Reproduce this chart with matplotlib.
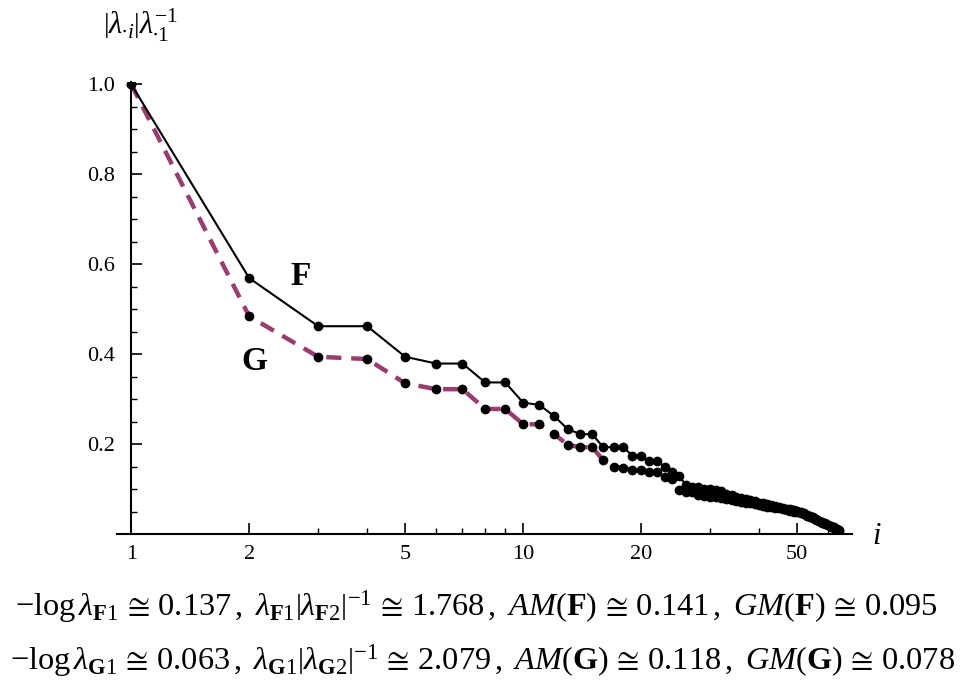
"""
Eigenvalue ratios |lambda_i| / lambda_1 for F and G on a log index axis.
"""
import numpy as np
import matplotlib.pyplot as plt

plt.rcParams['mathtext.fontset'] = 'custom'
plt.rcParams['mathtext.rm'] = 'Liberation Serif'
plt.rcParams['mathtext.it'] = 'Liberation Serif:italic'
plt.rcParams['mathtext.bf'] = 'Liberation Serif:bold'
plt.rcParams['font.family'] = ['Liberation Serif', 'DejaVu Serif']

#<---------------------------Datos---------------------------->
F_vals = [1.0, 0.569, 0.462, 0.462, 0.394, 0.379, 0.379, 0.337, 0.337, 0.292,
          0.287, 0.262, 0.233, 0.222, 0.222, 0.193, 0.193, 0.193, 0.174, 0.173,
          0.162, 0.162, 0.149, 0.138, 0.129, 0.109, 0.105, 0.105, 0.101, 0.100,
          0.097, 0.095, 0.090, 0.086, 0.082, 0.080, 0.078, 0.075, 0.073, 0.070,
          0.068, 0.066, 0.064, 0.062, 0.060, 0.058, 0.056, 0.055, 0.053, 0.051,
          0.049, 0.046, 0.043, 0.040, 0.037, 0.033, 0.030, 0.027, 0.024, 0.021,
          0.018, 0.015, 0.012, 0.009]
G_vals = [1.0, 0.484, 0.394, 0.389, 0.335, 0.322, 0.322, 0.278, 0.278, 0.244,
          0.244, 0.222, 0.198, 0.193, 0.193, 0.164, 0.149, 0.147, 0.142, 0.142,
          0.138, 0.138, 0.127, 0.123, 0.098, 0.093, 0.093, 0.086, 0.084, 0.083,
          0.082, 0.080, 0.078, 0.076, 0.074, 0.072, 0.070, 0.068, 0.066, 0.064,
          0.063, 0.061, 0.060, 0.058, 0.057, 0.055, 0.054, 0.052, 0.050, 0.048,
          0.046, 0.044, 0.041, 0.038, 0.035, 0.031, 0.028, 0.025, 0.022, 0.019,
          0.016, 0.013, 0.010, 0.007]
idx = np.arange(1, len(F_vals) + 1)

x_major = [1, 2, 5, 10, 20, 50]
x_minor = [3, 4, 6, 7, 8, 9, 30, 40, 60]
y_major = [0.2, 0.4, 0.6, 0.8, 1.0]
y_minor = np.arange(0.05, 1.0, 0.05)

line1 = (r"$-\log\lambda_{\mathbf{F}1}\,\cong\,0.137\,,\ \lambda_{\mathbf{F}1}"
         r"\left|\lambda_{\mathbf{F}2}\right|^{-1}\,\cong\,1.768\,,\ "
         r"AM(\mathbf{F})\,\cong\,0.141\,,\ GM(\mathbf{F})\,\cong\,0.095$")
line2 = (r"$-\log\lambda_{\mathbf{G}1}\,\cong\,0.063\,,\ \lambda_{\mathbf{G}1}"
         r"\left|\lambda_{\mathbf{G}2}\right|^{-1}\,\cong\,2.079\,,\ "
         r"AM(\mathbf{G})\,\cong\,0.118\,,\ GM(\mathbf{G})\,\cong\,0.078$")

#<---------------------------Grafica---------------------------->
fig = plt.figure(figsize=(9.69, 6.87), dpi=100)
ax = fig.add_axes([117/969, 1 - 534/687, (852 - 117)/969, (534 - 82)/687])

purple = "#993c6e"
ax.plot(idx, G_vals, color=purple, lw=3.2, ls=(0, (3.4, 2.2)), zorder=2)
ax.plot(idx, G_vals, 'o', color='black', ms=6, zorder=3)
ax.plot(idx, F_vals, color='black', lw=1.5, marker='o', ms=6, zorder=4)

ax.set_xscale('log')
ax.set_xlim(0.92, 69)
ax.set_ylim(0, 1.005)

for s in ['top', 'right']:
    ax.spines[s].set_visible(False)
ax.spines['left'].set_linewidth(1.5)
ax.spines['bottom'].set_linewidth(1.5)
ax.spines['left'].set_position(('data', 1))

ax.set_xticks(x_major)
ax.set_xticklabels([str(v) for v in x_major])
ax.set_xticks(x_minor, minor=True)
ax.set_xticklabels([], minor=True)
ax.set_yticks(y_major)
ax.set_yticklabels(["%.1f" % v for v in y_major])
ax.set_yticks(y_minor, minor=True)

ax.tick_params(axis='both', which='major', direction='in', length=8, width=1.2,
               labelsize=16, pad=8)
ax.tick_params(axis='both', which='minor', direction='in', length=4, width=1.0)
ax.tick_params(axis='y', which='major', pad=12)

ax.text(2.70, 0.571, r"$\mathbf{F}$", fontsize=24, ha='center', va='center')
ax.text(2.07, 0.382, r"$\mathbf{G}$", fontsize=24, ha='center', va='center')

fig.text(877/969, 1 - 537/687, r"$i$", fontsize=22, ha='center', va='center')
fig.text(103/969, 1 - 25/687, r"$\left|\lambda_{\bullet i}\right|\lambda_{\bullet 1}^{-1}$",
         fontsize=22, ha='left', va='center')

fig.text(476/969, 1 - 607/687, line1, fontsize=23.3, ha='center', va='center')
fig.text(483/969, 1 - 661/687, line2, fontsize=23.3, ha='center', va='center')

plt.savefig("out.png", dpi=100)
